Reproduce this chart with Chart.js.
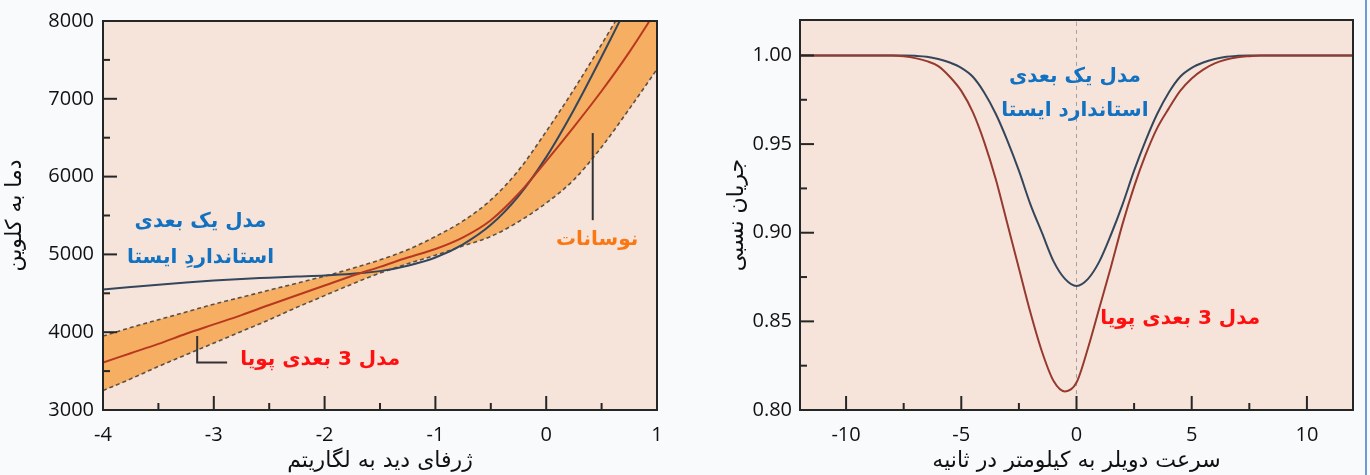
<!DOCTYPE html>
<html>
<head>
<meta charset="utf-8">
<script src="https://cdn.jsdelivr.net/npm/chart.js@4/dist/chart.umd.min.js"></script>
<style>
  html, body { margin: 0; padding: 0; background: #f9fafc; }
  body { width: 1370px; height: 475px; position: relative; overflow: hidden; }
  .box { position: absolute; top: 0; height: 475px; }
  #left { left: 0; width: 680px; }
  #right { left: 700px; width: 665px; }
  #edge { position: absolute; left: 1365px; top: 0; width: 2px; height: 475px; background: #6d9bd6; }
</style>
</head>
<body>
<div class="box" id="left"><canvas id="depthChart"></canvas></div>
<div class="box" id="right"><canvas id="dopplerChart"></canvas></div>
<div id="edge"></div>
<script>
"use strict";

// left panel: temperature vs log optical depth
const depthValues = [-4, -3.75, -3.5, -3.25, -3, -2.75, -2.5, -2.25, -2, -1.75, -1.5, -1.25, -1, -0.75, -0.5, -0.25, 0, 0.25, 0.5, 0.75, 1];
const temp3D = [3610, 3730, 3850, 3980, 4100, 4220, 4350, 4475, 4600, 4725, 4840, 4960, 5070, 5220, 5440, 5780, 6200, 6640, 7100, 7600, 8150];
const temp1D = [4550, 4580, 4610, 4640, 4665, 4685, 4700, 4715, 4730, 4752, 4785, 4855, 4960, 5130, 5380, 5750, 6250, 6860, 7540, 8250, 9000];
const tempUpper = [3950, 4060, 4160, 4260, 4360, 4450, 4540, 4630, 4720, 4820, 4930, 5060, 5230, 5430, 5700, 6080, 6580, 7120, 7700, 8300, 8900];
const tempLower = [3250, 3400, 3560, 3710, 3860, 4010, 4160, 4320, 4470, 4620, 4760, 4880, 4990, 5110, 5230, 5420, 5660, 5960, 6380, 6870, 7380];
const tempTicks = [3000, 4000, 5000, 6000, 7000, 8000];

// right panel: relative flux vs doppler velocity (km/s)
const velocityValues = [-12, -11.5, -11, -10.5, -10, -9.5, -9, -8.5, -8, -7.5, -7, -6.5, -6, -5.5, -5, -4.5, -4, -3.5, -3, -2.5, -2, -1.5, -1, -0.5, 0,
  0.5, 1, 1.5, 2, 2.5, 3, 3.5, 4, 4.5, 5, 5.5, 6, 6.5, 7, 7.5, 8, 8.5, 9, 9.5, 10, 10.5, 11, 11.5, 12];
const flux1D = [1, 1, 1, 1, 1, 1, 1, 1, 1, 1, 0.9998, 0.9993, 0.998, 0.996, 0.993, 0.988, 0.979, 0.967, 0.952, 0.935, 0.916, 0.9, 0.884, 0.874, 0.87,
  0.874, 0.884, 0.899, 0.916, 0.935, 0.952, 0.967, 0.979, 0.988, 0.993, 0.996, 0.998, 0.9993, 0.9998, 1, 1, 1, 1, 1, 1, 1, 1, 1, 1];
const flux3D = [1, 1, 1, 1, 1, 1, 1, 1, 1, 0.9995, 0.9985, 0.9968, 0.994, 0.988, 0.98, 0.968, 0.951, 0.93, 0.905, 0.88, 0.855, 0.833, 0.8165, 0.8105, 0.8155,
  0.835, 0.858, 0.881, 0.905, 0.926, 0.944, 0.959, 0.97, 0.98, 0.987, 0.992, 0.9955, 0.9977, 0.999, 0.9996, 1, 1, 1, 1, 1, 1, 1, 1, 1];
const fluxTicks = [0.80, 0.85, 0.90, 0.95, 1.00];

const blueText = "#1271c0";
const redText = "#ff1010";
const orangeText = "#fa7814";
const redLine = "#b8381f";
const darkLine = "#34465c";
const plotFill = "#f6e4da";
const frameColor = "#262626";
const persianFont = "'DejaVu Sans', sans-serif";
const tickFont = { family: "'Open Sans', sans-serif", size: 20 };
const titleFont = { family: persianFont, size: 22 };

function points(xs, ys) {
  return xs.map((x, i) => ({ x: x, y: ys[i] }));
}

function drawTicks(ctx, scale, area, horizontal) {
  const vals = scale.ticks.map(t => t.value);
  const step = vals[1] - vals[0];
  const marks = vals.map(v => [v, 14]);
  for (let v = vals[0] - step / 2; v <= scale.max + 1e-9; v += step) {
    if (v >= scale.min - 1e-9) marks.push([v, 7]);
  }
  ctx.strokeStyle = frameColor;
  ctx.lineWidth = 2;
  marks.forEach(m => {
    const p = scale.getPixelForValue(m[0]);
    ctx.beginPath();
    if (horizontal) {
      ctx.moveTo(p, area.bottom);
      ctx.lineTo(p, area.bottom - m[1]);
    } else {
      ctx.moveTo(area.left, p);
      ctx.lineTo(area.left + m[1], p);
    }
    ctx.stroke();
  });
}

const decor = {
  id: "decor",
  beforeDraw(chart) {
    const a = chart.chartArea;
    const ctx = chart.ctx;
    ctx.save();
    ctx.fillStyle = plotFill;
    ctx.fillRect(a.left, a.top, a.right - a.left, a.bottom - a.top);
    ctx.restore();
  },
  afterDatasetsDraw(chart, args, opts) {
    const ctx = chart.ctx;
    const a = chart.chartArea;
    const xs = chart.scales.x;
    const ys = chart.scales.y;
    ctx.save();
    ctx.strokeStyle = "#333";
    ctx.lineWidth = 2;
    (opts.leaders || []).forEach(pts => {
      ctx.beginPath();
      pts.forEach((p, i) => {
        const px = xs.getPixelForValue(p[0]);
        const py = ys.getPixelForValue(p[1]);
        if (i === 0) ctx.moveTo(px, py);
        else ctx.lineTo(px, py);
      });
      ctx.stroke();
    });
    drawTicks(ctx, xs, a, true);
    drawTicks(ctx, ys, a, false);
    ctx.strokeStyle = frameColor;
    ctx.lineWidth = 2;
    ctx.strokeRect(a.left, a.top, a.right - a.left, a.bottom - a.top);

    ctx.direction = "rtl";
    ctx.textAlign = "center";
    ctx.textBaseline = "middle";
    ctx.font = "bold 20px " + persianFont;
    (opts.notes || []).forEach(n => {
      ctx.fillStyle = n.color;
      ctx.fillText(n.text, xs.getPixelForValue(n.x), ys.getPixelForValue(n.y));
    });
    ctx.restore();
  }
};

function axisTitle(text, pad) {
  return { display: true, text: text, color: "#111", font: titleFont, padding: { top: pad, bottom: 1 } };
}

function buildDepthChart() {
  const ctx = document.getElementById("depthChart");
  new Chart(ctx, {
    type: "line",
    data: {
      datasets: [
        {
          data: points(depthValues, tempUpper),
          borderColor: "#5a5048",
          borderWidth: 1.6,
          borderDash: [4, 3],
          backgroundColor: "#f6ae62",
          fill: "+1",
          order: 4,
        },
        {
          data: points(depthValues, tempLower),
          borderColor: "#5a5048",
          borderWidth: 1.6,
          borderDash: [4, 3],
          fill: false,
          order: 3,
        },
        {
          data: points(depthValues, temp1D),
          borderColor: darkLine,
          borderWidth: 2,
          fill: false,
          order: 2,
        },
        {
          data: points(depthValues, temp3D),
          borderColor: redLine,
          borderWidth: 2,
          fill: false,
          order: 1,
        },
      ],
    },
    options: {
      responsive: true,
      maintainAspectRatio: false,
      animation: false,
      layout: { padding: { top: 17, right: 23, left: 0, bottom: 0 } },
      elements: { point: { radius: 0 }, line: { cubicInterpolationMode: "monotone" } },
      plugins: {
        legend: { display: false },
        tooltip: { enabled: false },
        decor: {
          leaders: [
            [[0.42, 5440], [0.42, 6560]],
            [[-3.15, 3950], [-3.15, 3610], [-2.88, 3610]],
          ],
          notes: [
            { text: "مدل یک بعدی", x: -3.12, y: 5420, color: blueText },
            { text: "استانداردِ ایستا", x: -3.12, y: 4950, color: blueText },
            { text: "نوسانات", x: 0.46, y: 5190, color: orangeText },
            { text: "مدل 3 بعدی پویا", x: -2.04, y: 3640, color: redText },
          ],
        },
      },
      scales: {
        x: {
          type: "linear",
          min: -4,
          max: 1,
          grid: { display: false, drawTicks: false },
          border: { display: false },
          ticks: { stepSize: 1, padding: 13, color: "#111", font: tickFont, maxRotation: 0 },
          title: axisTitle("ژرفای دید به لگاریتم", 1),
          afterFit: s => { s.height = 65; },
        },
        y: {
          min: 3000,
          max: 8000,
          grid: { display: false, drawTicks: false },
          border: { display: false },
          ticks: {
            padding: 9,
            color: "#111",
            font: tickFont,
            callback: v => (tempTicks.indexOf(v) >= 0 ? String(v) : ""),
            stepSize: 1000,
          },
          title: axisTitle("دما به کلوین", 2),
          afterFit: s => { s.width = 103; },
        },
      },
    },
    plugins: [decor],
  });
}

function buildDopplerChart() {
  const ctx = document.getElementById("dopplerChart");
  new Chart(ctx, {
    type: "line",
    data: {
      datasets: [
        {
          data: [{ x: 0, y: 0.8 }, { x: 0, y: 1.02 }],
          borderColor: "#a0a0a0",
          borderWidth: 1,
          borderDash: [4, 4],
          fill: false,
          tension: 0,
          order: 3,
        },
        {
          data: points(velocityValues, flux1D),
          borderColor: darkLine,
          borderWidth: 2,
          fill: false,
          order: 2,
        },
        {
          data: points(velocityValues, flux3D),
          borderColor: "#963a30",
          borderWidth: 2,
          fill: false,
          order: 1,
        },
      ],
    },
    options: {
      responsive: true,
      maintainAspectRatio: false,
      animation: false,
      layout: { padding: { top: 17, right: 12, left: 0, bottom: 0 } },
      elements: { point: { radius: 0 }, line: { cubicInterpolationMode: "monotone" } },
      plugins: {
        legend: { display: false },
        tooltip: { enabled: false },
        decor: {
          notes: [
            { text: "مدل یک بعدی", x: -0.07, y: 0.988, color: blueText },
            { text: "استاندارد ایستا", x: -0.07, y: 0.9685, color: blueText },
            { text: "مدل 3 بعدی پویا", x: 4.5, y: 0.8517, color: redText },
          ],
        },
      },
      scales: {
        x: {
          type: "linear",
          min: -12,
          max: 12,
          grid: { display: false, drawTicks: false },
          border: { display: false },
          ticks: { stepSize: 5, includeBounds: false, padding: 13, color: "#111", font: tickFont, maxRotation: 0 },
          title: axisTitle("سرعت دویلر به کیلومتر در ثانیه", 1),
          afterFit: s => { s.height = 65; },
        },
        y: {
          min: 0.8,
          max: 1.02,
          grid: { display: false, drawTicks: false },
          border: { display: false },
          ticks: {
            stepSize: 0.05,
            includeBounds: false,
            padding: 8,
            color: "#111",
            font: tickFont,
            callback: v => v.toFixed(2),
          },
          title: axisTitle("جریان نسبی", 24),
          afterFit: s => { s.width = 100; },
        },
      },
    },
    plugins: [decor],
  });
}

buildDepthChart();
buildDopplerChart();
</script>
</body>
</html>
